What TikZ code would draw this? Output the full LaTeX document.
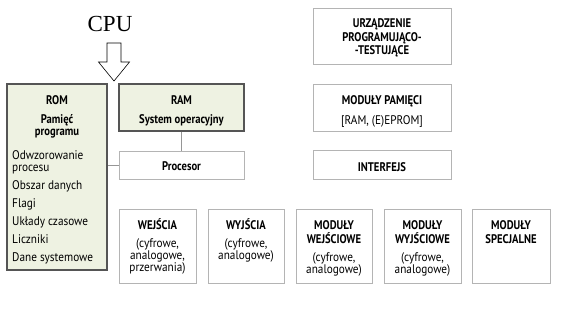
\documentclass[tikz,border=0pt]{standalone}
\usepackage{fontspec}
\setmainfont{PT Sans}[FakeStretch=0.9, BoldFeatures={FakeStretch=0.85}]
\newfontfamily\cpufont{Liberation Serif}
\definecolor{romgreen}{RGB}{238,242,226}
\definecolor{darkb}{RGB}{85,85,85}
\definecolor{lightb}{RGB}{180,180,180}
\definecolor{connc}{RGB}{150,150,150}
\begin{document}
\begin{tikzpicture}[x=1pt,y=-1pt,
  greenbox/.style={draw=darkb, fill=romgreen, line width=1.1pt, inner sep=0},
  whitebox/.style={draw=lightb, fill=white, line width=0.9pt, inner sep=0},
  t/.style={font=\fontsize{12.5}{14}\selectfont, anchor=base, inner sep=0},
  tb/.style={t, font=\fontsize{12.5}{14}\selectfont\bfseries},
  tl/.style={t, anchor=base west},
  conn/.style={draw=connc, line width=0.9pt}]
\useasboundingbox[fill=white] (0,0) rectangle (578,321);

% CPU label and hollow arrow
\node[font=\cpufont\fontsize{23}{26}\selectfont, anchor=base, inner sep=0] (cpu) at (110,32) {CPU};
\draw[black, line width=0.6pt, fill=white] (107,43) -- (121,43) -- (121,62) -- (129.5,62) -- (114,81) -- (98.5,62) -- (107,62) -- cycle;

% boxes
\node[greenbox, minimum width=100pt, minimum height=186pt] (rom) at (57,177) {};
\node[greenbox, minimum width=125pt, minimum height=47pt] (ram) at (181.5,107.5) {};
\node[whitebox, minimum width=125pt, minimum height=28pt] (proc) at (181.5,165) {};
\node[whitebox, minimum width=138pt, minimum height=56pt] (urz) at (382,36) {};
\node[whitebox, minimum width=138pt, minimum height=47pt] (pam) at (382,107.5) {};
\node[whitebox, minimum width=138pt, minimum height=29pt] (intf) at (382,164.5) {};
\node[whitebox, minimum width=77pt, minimum height=74pt] (wej) at (157.5,246) {};
\node[whitebox, minimum width=76pt, minimum height=74pt] (wyj) at (246,246) {};
\node[whitebox, minimum width=76pt, minimum height=74pt] (mwe) at (334,246) {};
\node[whitebox, minimum width=77pt, minimum height=74pt] (mwy) at (422.5,246) {};
\node[whitebox, minimum width=78pt, minimum height=74pt] (msp) at (511,246) {};

% connectors
\draw[conn] (ram.south) -- (proc.north);
\draw[conn] (proc.west) -- (proc.west -| rom.east);

% ROM texts
\node[tb] (rom1) at (57,104) {ROM};
\node[tb] (rom2) at (57,123) {Pamięć};
\node[tb] (rom3) at (57,135) {programu};
\node[tl] (rl1) at (12,159) {Odwzorowanie};
\node[tl] (rl2) at (12,171) {procesu};
\node[tl] (rl3) at (12,189) {Obszar danych};
\node[tl] (rl4) at (12,207) {Flagi};
\node[tl] (rl5) at (12,225) {Układy czasowe};
\node[tl] (rl6) at (12,243) {Liczniki};
\node[tl] (rl7) at (12,261) {Dane systemowe};

% RAM, Procesor
\node[tb] (ram1) at (181.5,104) {RAM};
\node[tb] (ram2) at (181.5,123) {System operacyjny};
\node[tb] (proc1) at (181.5,170.5) {Procesor};

% right column
\node[tb] (u1) at (382,28) {URZĄDZENIE};
\node[tb] (u2) at (382,41.5) {PROGRAMUJĄCO-};
\node[tb] (u3) at (382,55) {-TESTUJĄCE};
\node[tb] (p1) at (382,104) {MODUŁY PAMIĘCI};
\node[t] (p2) at (382,124) {[RAM, (E)EPROM]};
\node[tb] (i1) at (382,171) {INTERFEJS};

% bottom row
\node[tb] (we1) at (157.5,229) {WEJŚCIA};
\node[t] (we2) at (157.5,247.5) {(cyfrowe,};
\node[t] (we3) at (157.5,259.5) {analogowe,};
\node[t] (we4) at (157.5,271.5) {przerwania)};

\node[tb] (wy1) at (246,229) {WYJŚCIA};
\node[t] (wy2) at (246,247.5) {(cyfrowe,};
\node[t] (wy3) at (246,259.5) {analogowe)};

\node[tb] (me1) at (334,229) {MODUŁY};
\node[tb] (me2) at (334,243) {WEJŚCIOWE};
\node[t] (me3) at (334,261) {(cyfrowe,};
\node[t] (me4) at (334,273) {analogowe)};

\node[tb] (my1) at (422.5,229) {MODUŁY};
\node[tb] (my2) at (422.5,243) {WYJŚCIOWE};
\node[t] (my3) at (422.5,261) {(cyfrowe,};
\node[t] (my4) at (422.5,273) {analogowe)};

\node[tb] (ms1) at (511,229) {MODUŁY};
\node[tb] (ms2) at (511,243) {SPECJALNE};
\end{tikzpicture}
\end{document}
